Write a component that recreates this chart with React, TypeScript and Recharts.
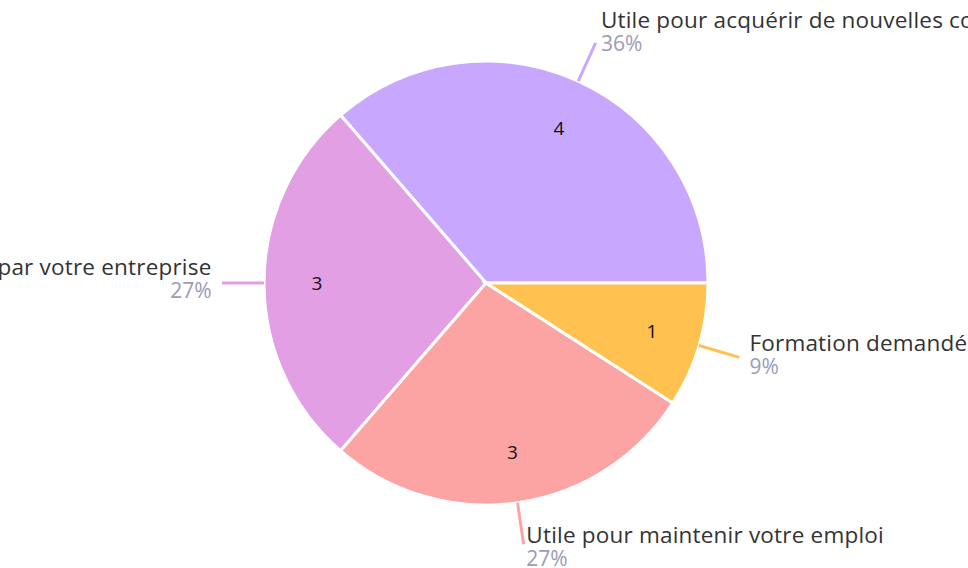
import { PieChart, Pie, Cell } from 'recharts';

const categories = [
  'Utile pour acquérir de nouvelles compétences',
  'Formation proposée par votre entreprise',
  'Utile pour maintenir votre emploi',
  'Formation demandée par moi-même',
];
const counts = [4, 3, 3, 1];
const colors = ['#c8a8ff', '#e29fe3', '#fca4a4', '#ffc150'];

const data = categories.map((name, i) => ({ name, value: counts[i] }));

const RAD = Math.PI / 180;

const renderLabel = (props: any) => {
  const { cx, cy, midAngle, outerRadius, percent, value, name, index } = props;
  const cos = Math.cos(-midAngle * RAD);
  const sin = Math.sin(-midAngle * RAD);
  const ir = outerRadius * 0.77;
  const ix = cx + ir * cos + 2;
  const iy = cy + ir * sin;
  const sx = cx + outerRadius * cos;
  const sy = cy + outerRadius * sin;
  const ex = cx + (outerRadius + 42) * cos;
  const ey = cy + (outerRadius + 42) * sin;
  const right = cos >= 0;
  const tx = ex + cos * 9 + (right ? 1.5 : -1.5);
  const anchor = right ? 'start' : 'end';
  // text block shifts up for labels above the pie, down for labels below
  const ny = ey - 17 + 7 * sin;
  return (
    <g>
      <text x={ix} y={iy} textAnchor="middle" dominantBaseline="central" fill="#111" fontSize={19}>
        {value}
      </text>
      <line x1={sx} y1={sy} x2={ex} y2={ey} stroke={colors[index]} strokeWidth={3} />
      <text x={tx} y={ny} textAnchor={anchor} dominantBaseline="central" fill="#333" fontSize={22.5} letterSpacing={0.2}>
        {name}
      </text>
      <text x={tx} y={ny + 24} textAnchor={anchor} dominantBaseline="central" fill="#9b9bb6" fontSize={21}>
        {`${Math.round(percent * 100)}%`}
      </text>
    </g>
  );
};

export default function App() {
  return (
    <div style={{ position: 'absolute', left: 0, top: 0, fontFamily: '"Open Sans", sans-serif' }}>
      <PieChart width={968} height={568} style={{ overflow: 'visible' }}>
        <Pie
          data={data}
          dataKey="value"
          nameKey="name"
          cx={481}
          cy={278}
          outerRadius={222}
          startAngle={0}
          endAngle={360}
          stroke="#fff"
          strokeWidth={3}
          label={renderLabel}
          labelLine={false}
          isAnimationActive={false}
        >
          {data.map((d, i) => (
            <Cell key={d.name} fill={colors[i]} />
          ))}
        </Pie>
      </PieChart>
    </div>
  );
}
